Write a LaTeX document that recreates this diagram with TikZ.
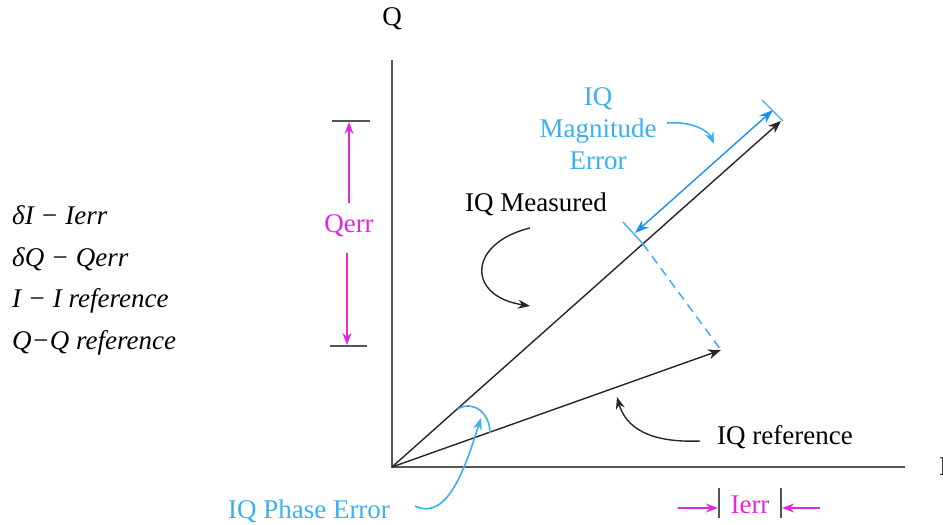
\documentclass[tikz,border=0pt]{standalone}
\usepackage{fontspec}
\setmainfont{Liberation Serif}
\usetikzlibrary{arrows.meta}
\definecolor{cb}{RGB}{60,175,240}
\definecolor{cbd}{RGB}{25,145,240}
\definecolor{mg}{RGB}{225,40,225}
\definecolor{ax}{RGB}{85,85,85}
\tikzset{
  lbl/.style={font=\fontsize{27}{32}\selectfont, inner sep=0pt},
  leg/.style={font=\fontsize{27}{30}\selectfont\itshape, inner sep=0pt, anchor=base west},
  axis/.style={draw=ax, line width=2pt},
  vec/.style={draw=black!85, line width=1.4pt, -{Stealth[length=13pt,width=10pt]}},
  curv/.style={draw=black!85, line width=1.4pt, -{Stealth[length=12pt,width=9pt]}},
  bcurv/.style={draw=cb, line width=1.6pt, -{Stealth[length=12pt,width=9pt]}},
  barr/.style={draw=cbd, line width=1.4pt, {Stealth[length=14pt,width=10pt]}-{Stealth[length=14pt,width=10pt]}},
  btick/.style={draw=cb, line width=1.4pt},
  tick/.style={draw=ax, line width=2pt},
  marr/.style={draw=mg, line width=1.6pt, -{Stealth[length=12pt,width=9pt]}},
}
\begin{document}
\begin{tikzpicture}[x=1pt,y=-1pt]
\useasboundingbox (0,0) rectangle (943,525);
% axes
\coordinate (O) at (392,467);
\coordinate (Qtop) at (392,60);
\coordinate (Iend) at (905,467);
\draw[axis] (Qtop) -- (O) -- (Iend);
\node[lbl] (Qlab) at (392,19) {Q};
\node[lbl, anchor=west] (Ilab) at (939,467) {I};
% vectors
\coordinate (M) at (781,121);
\coordinate (R) at (721,350);
\draw[vec] (O) -- (M);
\draw[vec] (O) -- (R);
% projection point on measured
\coordinate (P) at (643,244);
\draw[draw=cb, line width=1.5pt, dash pattern=on 9pt off 6pt] (P) -- (R);
% magnitude error
\coordinate (T1a) at (643,244);
\coordinate (T1b) at (623,222);
\coordinate (T2a) at (783,121);
\coordinate (T2b) at (762,100);
\draw[btick] (T1a) -- (T1b);
\draw[btick] (T2a) -- (T2b);
\coordinate (B1) at (635,233);
\coordinate (B2) at (773,110);
\draw[barr] (B1) -- (B2);
\node[lbl, text=cb, align=center] (mag) at (598,129) {IQ\\Magnitude\\Error};
\coordinate (ma) at (667,123);
\coordinate (mb) at (714,144);
\draw[bcurv] (ma) .. controls (690,121) and (708,130) .. (mb);
% labels
\node[lbl] (meas) at (536,204) {IQ Measured};
\coordinate (c1) at (530,228);
\coordinate (c2) at (530,306);
\draw[curv] (c1) .. controls (468,243) and (466,296) .. (c2);
\node[lbl] (ref) at (785,437) {IQ reference};
\coordinate (r1) at (700,441);
\coordinate (r2) at (617,397);
\draw[curv] (r1) .. controls (650,443) and (626,428) .. (r2);
% phase error
\coordinate (pa) at (458,409);
\coordinate (pb) at (490,433);
\draw[btick, line width=1.6pt] (pa) .. controls (472,400) and (490,412) .. (pb);
\node[lbl, text=cb] (ph) at (309,511) {IQ Phase Error};
\coordinate (p1) at (415,506);
\coordinate (p2) at (481,418);
\draw[bcurv] (p1) .. controls (448,522) and (466,465) .. (p2);
% Qerr
\coordinate (qt1) at (332,121); \coordinate (qt2) at (370,121);
\coordinate (qb1) at (330,346); \coordinate (qb2) at (367,346);
\draw[tick] (qt1) -- (qt2);
\draw[tick] (qb1) -- (qb2);
\node[lbl, text=mg] (qerr) at (349,226) {Qerr};
\coordinate (qa1) at (349,203); \coordinate (qa2) at (349,122);
\coordinate (qc1) at (347,253); \coordinate (qc2) at (347,345);
\draw[marr] (qa1) -- (qa2);
\draw[marr] (qc1) -- (qc2);
% Ierr
\coordinate (it1) at (719,488); \coordinate (it2) at (719,518);
\coordinate (iu1) at (781,488); \coordinate (iu2) at (781,518);
\draw[tick] (it1) -- (it2);
\draw[tick] (iu1) -- (iu2);
\node[lbl, text=mg] (ierr) at (750,505) {Ierr};
\coordinate (ia1) at (678,508); \coordinate (ia2) at (718,508);
\coordinate (ib1) at (820,508); \coordinate (ib2) at (782,508);
\draw[marr] (ia1) -- (ia2);
\draw[marr] (ib1) -- (ib2);
% legend
\node[leg] (l1) at (12,224) {δI − Ierr};
\node[leg] (l2) at (12,266) {δQ − Qerr};
\node[leg] (l3) at (12,307) {I − I reference};
\node[leg] (l4) at (12,349) {Q−Q reference};
\end{tikzpicture}
\end{document}
